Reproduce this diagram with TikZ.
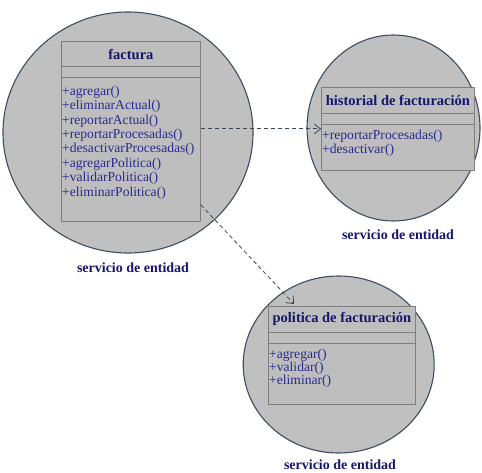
\documentclass[tikz,border=0pt]{standalone}
\usepackage{fontspec}
\setmainfont{Liberation Serif}
\usetikzlibrary{arrows.meta,shapes.geometric,calc}

\definecolor{discfill}{HTML}{C0C0C0}
\definecolor{discedge}{HTML}{3E4E5E}
\definecolor{boxfill}{HTML}{BEBEBE}
\definecolor{boxedge}{HTML}{7E7E7E}
\definecolor{titlecol}{HTML}{16166A}
\definecolor{opcol}{HTML}{2A2A8E}
\definecolor{depcol}{HTML}{3A4654}

\begin{document}
\begin{tikzpicture}[x=1pt,y=-1pt,
  disc/.style={ellipse, draw=discedge, fill=discfill, line width=1.1pt, inner sep=0},
  classbox/.style={rectangle, draw=boxedge, fill=boxfill, line width=0.8pt,
                   inner sep=0, anchor=north west},
  sep/.style={draw=boxedge, line width=0.8pt},
  title/.style={font=\fontsize{14.5}{14.5}\selectfont\bfseries, text=titlecol, inner sep=0},
  op/.style={font=\fontsize{13.6}{13.6}\selectfont, text=opcol, anchor=west, inner sep=0},
  caption/.style={font=\fontsize{14}{14}\selectfont\bfseries, text=titlecol, inner sep=0},
  dep/.style={draw=depcol, dash pattern=on 4pt off 3pt, line width=0.8pt,
              -{Straight Barb[length=6pt,width=10pt,line width=0.8pt]}}
]
\useasboundingbox (0,0) rectangle (482,473);
\fill[white] (0,0) rectangle (482,473);

% service discs
\node[disc, minimum width=250pt, minimum height=241pt] (d1) at (128,132.5) {};
\node[disc, minimum width=173pt, minimum height=186pt] (d2) at (393.5,128) {};
\node[disc, minimum width=191pt, minimum height=177pt] (d3) at (338.7,364.5) {};

% class: factura
\node[classbox, minimum width=139pt, minimum height=180pt] (factura) at (61,41) {};
\draw[sep] ($(factura.north west)+(0,25)$) -- ($(factura.north east)+(0,25)$);
\draw[sep] ($(factura.north west)+(0,36)$) -- ($(factura.north east)+(0,36)$);
\node[title] (factura-t) at ($(factura.north)+(0,13)$) {factura};
\foreach \name [count=\i from 0] in {agregar,eliminarActual,reportarActual,reportarProcesadas,
    desactivarProcesadas,agregarPolitica,validarPolitica,eliminarPolitica}
  \node[op] (factura-m\i) at ($(factura.north west)+(1,51+14.4*\i)$) {+\name()};

% class: historial de facturación
\node[classbox, minimum width=153pt, minimum height=83pt] (historial) at (321,87) {};
\draw[sep] ($(historial.north west)+(0,26)$) -- ($(historial.north east)+(0,26)$);
\draw[sep] ($(historial.north west)+(0,37)$) -- ($(historial.north east)+(0,37)$);
\node[title] (historial-t) at ($(historial.north)+(0,13)$) {historial de facturación};
\foreach \name [count=\i from 0] in {reportarProcesadas,desactivar}
  \node[op] (historial-m\i) at ($(historial.north west)+(1,49.5+13.8*\i)$) {+\name()};

% class: politica de facturación
\node[classbox, minimum width=147pt, minimum height=98pt] (politica) at (268,306) {};
\draw[sep] ($(politica.north west)+(0,26)$) -- ($(politica.north east)+(0,26)$);
\draw[sep] ($(politica.north west)+(0,37)$) -- ($(politica.north east)+(0,37)$);
\node[title] (politica-t) at ($(politica.north)+(0,13)$) {politica de facturación};
\foreach \name [count=\i from 0] in {agregar,validar,eliminar}
  \node[op] (politica-m\i) at ($(politica.north west)+(1,49+13.3*\i)$) {+\name()};

% stereotype captions
\node[caption] (c1) at (133,268) {servicio de entidad};
\node[caption] (c2) at (398,235) {servicio de entidad};
\node[caption] (c3) at (340,465) {servicio de entidad};

% dependencies
\coordinate (factura-low) at ($(factura.south east)+(0,-17)$);
\coordinate (politica-in) at ($(politica.north west)+(26,-2)$);
\draw[dep] (factura.east |- historial.west) -- (historial.west);
\draw[dep] (factura-low) -- (politica-in);
\end{tikzpicture}
\end{document}
